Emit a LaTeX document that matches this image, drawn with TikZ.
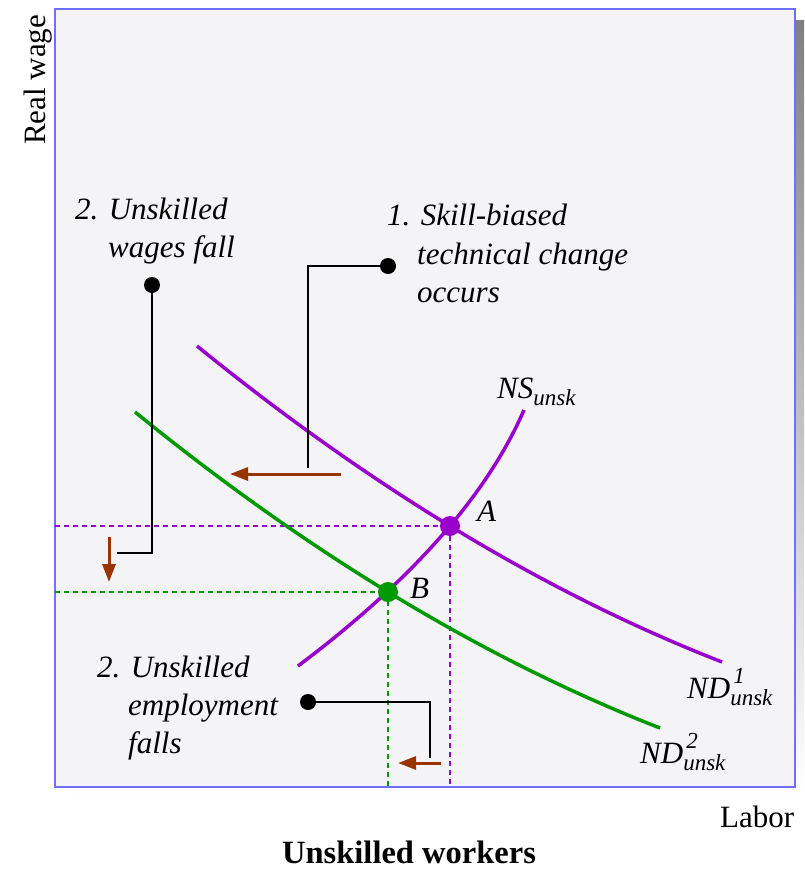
\documentclass[tikz,border=0pt]{standalone}
\usepackage{fontspec}
\setmainfont{Liberation Serif}
\usetikzlibrary{arrows.meta}
\definecolor{purp}{HTML}{9900CC}
\definecolor{grn}{HTML}{009900}
\definecolor{brn}{HTML}{993300}
\definecolor{frameblue}{HTML}{6E6EFF}
\definecolor{paper}{HTML}{F4F4F7}
\definecolor{shade}{HTML}{C8C8C8}
\newcommand{\subtx}[1]{\raisebox{-7pt}{\fontsize{23}{23}\selectfont #1}}
\newcommand{\suptx}[1]{\rlap{\kern3pt\raisebox{15pt}{\fontsize{23}{23}\selectfont #1}}}
\begin{document}
\begin{tikzpicture}[x=1pt,y=-1pt,
  curve/.style={line width=3.5pt},
  guide/.style={line width=2pt, dash pattern=on 5pt off 4pt},
  leader/.style={line width=2.2pt, black},
  leaddot/.style={circle, fill=black, inner sep=0pt, minimum size=16pt},
  eqdot/.style={circle, inner sep=0pt, minimum size=20pt},
  shiftarrow/.style={line width=3pt, brn, -{Triangle[length=18pt,width=13pt]}},
  note/.style={font=\fontsize{31}{31}\selectfont\itshape, inner sep=0pt, anchor=base west},
  lbl/.style={font=\fontsize{31}{31}\selectfont\itshape, inner sep=0pt, anchor=base west},
  axislbl/.style={font=\fontsize{31}{31}\selectfont, inner sep=0pt}
]
\useasboundingbox (0,0) rectangle (804,873);
% shadow and frame
\fill[shade] (69,20) rectangle (804,797);
\filldraw[fill=paper, draw=frameblue, line width=2pt] (55,9) rectangle (795,787);

% equilibria
\coordinate (A) at (450,526);
\coordinate (B) at (388,592);
\coordinate (Aleft) at (55,526);
\coordinate (Abot) at (450,787);
\coordinate (Bleft) at (55,592);
\coordinate (Bbot) at (388,787);

% dashed guides
\draw[guide, purp] (Aleft) -- (A) -- (Abot);
\draw[guide, grn] (Bleft) -- (B) -- (Bbot);

% curves
\coordinate (d1s) at (197,346);
\coordinate (d1e) at (722,662);
\draw[curve, purp] (d1s) .. controls (372,488.3) and (547,593.7) .. (d1e);
\coordinate (d2s) at (135,412);
\coordinate (d2e) at (660,728);
\draw[curve, grn] (d2s) .. controls (310,554.3) and (485,659.7) .. (d2e);
\coordinate (ss) at (298,666);
\coordinate (se) at (524,410);
\draw[curve, purp] (ss) .. controls (411.5,580.7) and (486.9,495.3) .. (se);

\node[eqdot, fill=purp] (Adot) at (A) {};
\node[eqdot, fill=grn] (Bdot) at (B) {};
\node[lbl] (Alab) at (477,521) {A};
\node[lbl] (Blab) at (410,598) {B};

% curve labels
\node[lbl] (NSlab) at (497,398) {NS\subtx{unsk}};
\node[lbl] (ND1lab) at (687,698) {ND\suptx{1}\subtx{unsk}};
\node[lbl] (ND2lab) at (640,763) {ND\suptx{2}\subtx{unsk}};

% axis labels
\node[axislbl, rotate=90, anchor=base west] (ylab) at (45,145) {Real wage};
\node[axislbl, anchor=base west] (xlab) at (720,827) {Labor};
\node[font=\fontsize{32.5}{32.5}\selectfont\bfseries, inner sep=0pt, anchor=base west] (title) at (282,863) {Unskilled workers};

% note 1: technical change
\node[note] (n1a) at (387,225) {1. Skill-biased};
\node[note] (n1b) at (417,264) {technical change};
\node[note] (n1c) at (417,302) {occurs};
\node[leaddot] (d1) at (388,266) {};
\coordinate (c1) at (308,266);
\coordinate (e1) at (308,468);
\draw[leader] (d1.center) -- (c1) -- (e1);
\coordinate (a1s) at (341,474);
\coordinate (a1e) at (230,474);
\draw[shiftarrow] (a1s) -- (a1e);

% note 2: wages fall
\node[note] (n2a) at (75,219) {2. Unskilled};
\node[note] (n2b) at (108,257) {wages fall};
\node[leaddot] (d2) at (152,285) {};
\coordinate (c2) at (152,553);
\coordinate (e2) at (117,553);
\draw[leader] (d2.center) -- (c2) -- (e2);
\coordinate (a2s) at (109,537);
\coordinate (a2e) at (109,582);
\draw[shiftarrow] (a2s) -- (a2e);

% note 3: employment falls
\node[note] (n3a) at (97,677) {2. Unskilled};
\node[note] (n3b) at (128,715) {employment};
\node[note] (n3c) at (128,753) {falls};
\node[leaddot] (d3) at (308,702) {};
\coordinate (c3) at (430,702);
\coordinate (e3) at (430,758);
\draw[leader] (d3.center) -- (c3) -- (e3);
\coordinate (a3s) at (441,763);
\coordinate (a3e) at (398,763);
\draw[shiftarrow] (a3s) -- (a3e);
\end{tikzpicture}
\end{document}
